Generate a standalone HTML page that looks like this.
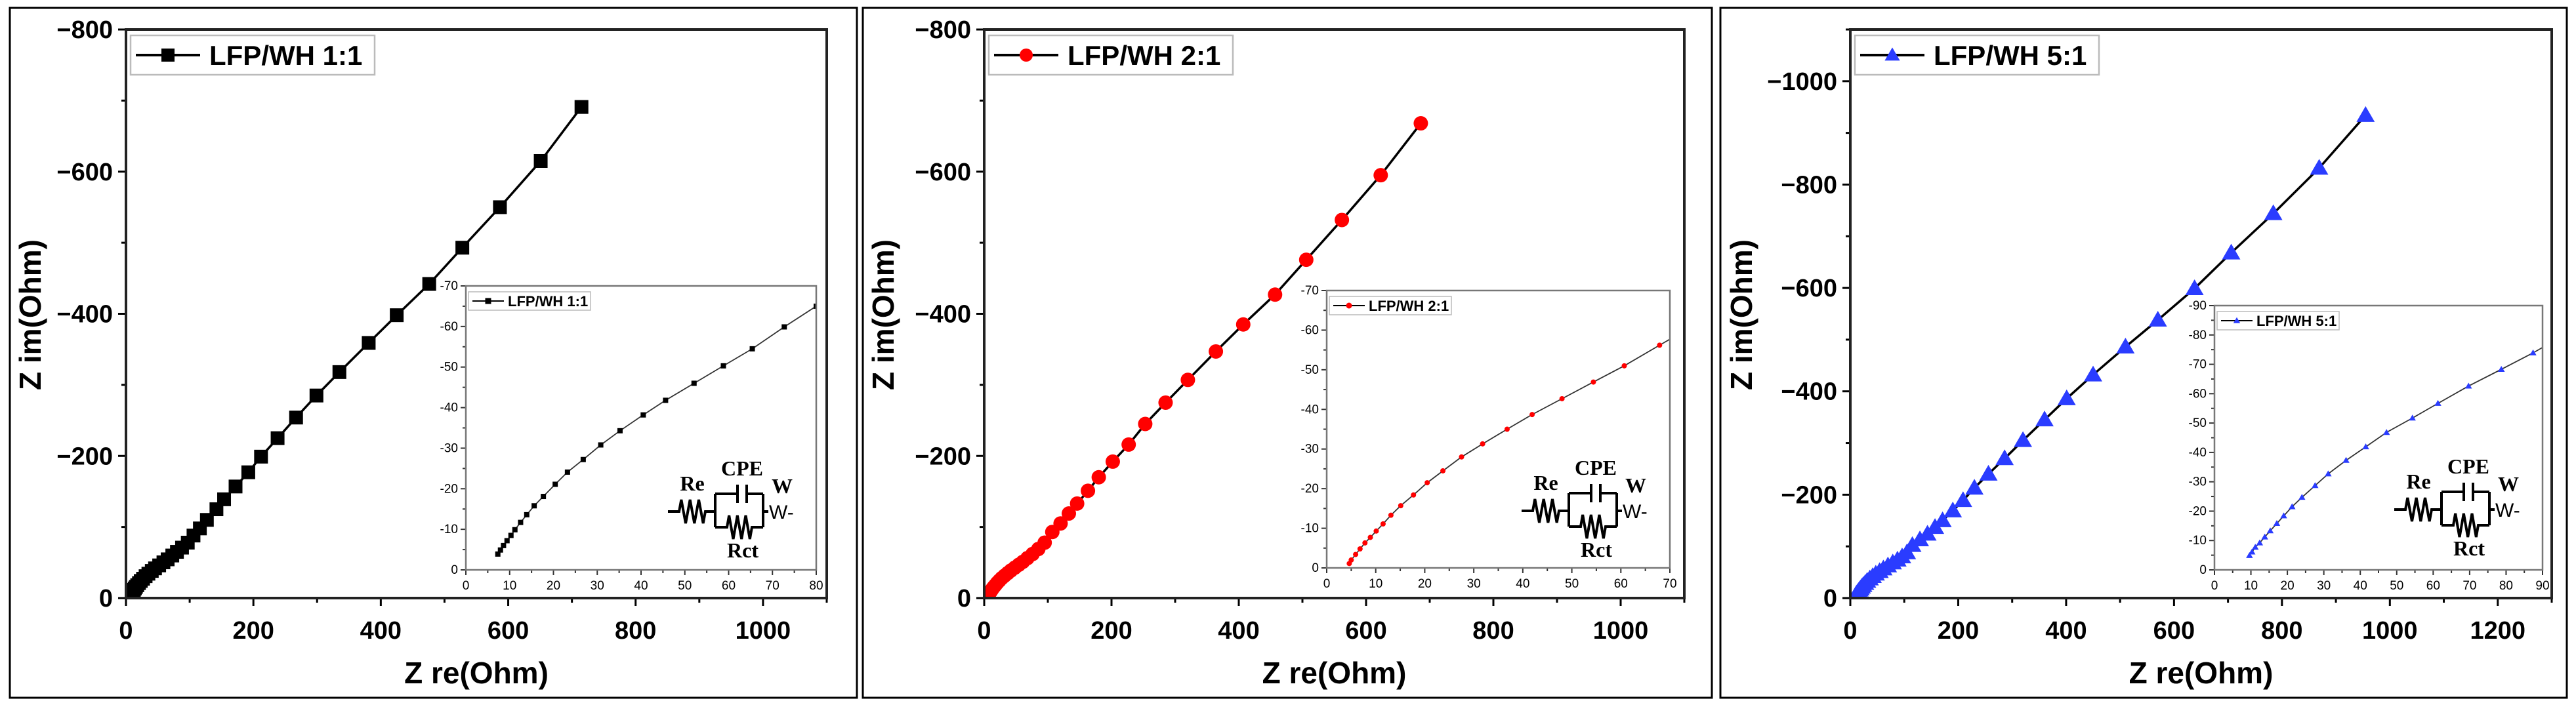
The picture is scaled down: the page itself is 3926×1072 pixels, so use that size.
<!DOCTYPE html>
<html><head><meta charset="utf-8">
<style>
html,body{margin:0;padding:0;background:#fff;}
svg{display:block;font-family:"Liberation Sans",Arial,sans-serif;}
</style></head>
<body>
<svg id="chart" width="3926" height="1072" viewBox="0 0 3926 1072" xmlns="http://www.w3.org/2000/svg">
<rect x="0" y="0" width="3926" height="1072" fill="#fff"/>
</svg>
<script>
// ---------- data ----------
const p1Zre = [7.3,7.9,8.6,9.4,10.3,11.2,12.5,13.9,15.6,17.7,20.4,23.2,26.8,30.8,35.2,40.5,45.6,52.1,58.8,65.4,72.7,80,88,97,106,116,127,142,154,172,192,212,238,267,299,335,381,425,476,528,587,651,715];
const p1Zim = [-3.9,-4.9,-6.0,-7.2,-8.5,-9.9,-11.7,-13.6,-15.8,-18.1,-21.1,-24.1,-27.2,-30.8,-34.3,-38.2,-41.8,-46.0,-50.3,-54.5,-59.9,-65,-71,-78,-88,-98,-110,-125,-139,-157,-177,-199,-225,-254,-285,-318,-359,-398,-442,-493,-550,-615,-691];
const p2Zre = [4.6,5.0,5.9,6.8,7.8,8.9,10.1,11.5,13.1,15.1,17.7,20.5,23.7,27.5,31.8,36.8,41.9,48.0,54.4,60.7,67.9,76,85,95,107,120,133,146,163,180,202,227,253,285,320,364,407,457,506,562,623,686];
const p2Zim = [-1.1,-2.0,-3.4,-4.8,-6.3,-7.7,-9.3,-11.1,-13.3,-15.7,-18.4,-21.5,-24.5,-28.0,-31.3,-35.0,-38.7,-42.7,-46.9,-51.0,-56.2,-62,-69,-78,-93,-105,-119,-133,-151,-170,-192,-216,-245,-275,-307,-347,-385,-427,-476,-532,-595,-668];
const p3Zre = [9.6,10.3,11.2,12.4,13.8,15.3,17.1,19.0,21.3,24.0,27.6,31.2,36.1,41.5,47.2,54.3,61.3,69.7,78.7,87.4,96,105,115,129,143,157,171,190,209,230,256,286,320,360,401,450,510,570,638,706,784,869,955];
const p3Zim = [-4.9,-6.1,-7.7,-9.2,-11.2,-13.3,-15.8,-18.4,-21.5,-24.7,-28.7,-32.7,-37.3,-41.9,-46.8,-51.7,-56.7,-62.6,-68.3,-73.9,-80,-88,-102,-113,-124,-137,-150,-169,-189,-213,-240,-270,-305,-345,-386,-432,-486,-538,-599,-668,-744,-832,-934];
const seriesNames = ["LFP/WH 1:1","LFP/WH 2:1","LFP/WH 5:1"];
const mainXTicks12 = [0,200,400,600,800,1000];
const mainXTicks3 = [0,200,400,600,800,1000,1200];
const mainYTicks12 = [0,-200,-400,-600,-800];
const mainYTicks3 = [0,-200,-400,-600,-800,-1000];
const insetXTicks1 = [0,10,20,30,40,50,60,70,80];
const insetXTicks2 = [0,10,20,30,40,50,60,70];
const insetXTicks3 = [0,10,20,30,40,50,60,70,80,90];
const insetYTicks12 = [0,-10,-20,-30,-40,-50,-60,-70];
const insetYTicks3 = [0,-10,-20,-30,-40,-50,-60,-70,-80,-90];

// ---------- helpers ----------
const NS = "http://www.w3.org/2000/svg";
const svg = document.getElementById("chart");
function mk(tag, attrs, parent){
  const e = document.createElementNS(NS, tag);
  for (const k in attrs) e.setAttribute(k, attrs[k]);
  (parent||svg).appendChild(e);
  return e;
}
function fmt(v){ return v<0 ? "\u2212"+Math.abs(v) : String(v); }
function fmtI(v){ return v<0 ? "-"+Math.abs(v) : String(v); }
function drawMarker(g, shape, x, y, s, color){
  let m;
  if (shape==="square") m = mk("rect",{x:x-s/2,y:y-s/2,width:s,height:s,fill:color},g);
  else if (shape==="circle") m = mk("circle",{cx:x,cy:y,r:s/2,fill:color},g);
  else m = mk("polygon",{points:`${x},${y-s*0.58} ${x-s*0.58},${y+s*0.42} ${x+s*0.58},${y+s*0.42}`,fill:color},g);
  
  
  return m;
}
let clipId = 0;

function plotArea(o){
  // o: L,T,R,B,x0,x1,y0,y1,xs,ys,xTicks,yTicks,xMinor,yMinor,shape,color,ms,lw,inset,name
  const g = mk("g",{});
  
  
  const sx = v => o.L + (v - o.x0)/(o.x1 - o.x0)*(o.R - o.L);
  const sy = v => o.B - (v - o.y0)/(o.y1 - o.y0)*(o.B - o.T);
  if (o.inset) mk("rect",{x:o.L,y:o.T,width:o.R-o.L,height:o.B-o.T,fill:"#fff"},g);
  const cid = "clip"+(clipId++);
  const cp = mk("clipPath",{id:cid},g);
  mk("rect",{x:o.L,y:o.T,width:o.R-o.L,height:o.B-o.T},cp);
  // ticks
  const tl = o.inset?8:12, tm = o.inset?5:7, tw = o.inset?2:3;
  const tickCol = o.inset?"#333":"#000";
  for (let v=o.x0; v<=o.x1+1e-9; v+=o.xMinor){
    const major = o.xTicks.some(t=>Math.abs(t-v)<1e-9);
    mk("line",{x1:sx(v),y1:o.B,x2:sx(v),y2:o.B+(major?tl:tm),stroke:tickCol,"stroke-width":tw},g);
  }
  for (let v=o.y0; v>=o.y1-1e-9; v-=o.yMinor){
    const major = o.yTicks.some(t=>Math.abs(t-v)<1e-9);
    mk("line",{x1:o.L,y1:sy(v),x2:o.L-(major?tl:tm),y2:sy(v),stroke:tickCol,"stroke-width":tw},g);
  }
  o.xTicks.forEach(v=>{
    const t = mk("text",{x:sx(v),y:o.inset?o.B+30:o.B+62,"text-anchor":"middle","font-size":o.inset?19:38,"font-weight":o.inset?"normal":"bold",fill:"#000"},g);
    t.textContent = o.inset?fmtI(v):fmt(v);
    
    
  });
  o.yTicks.forEach(v=>{
    const t = mk("text",{x:o.L-(o.inset?12:20),y:sy(v)+(o.inset?6:13),"text-anchor":"end","font-size":o.inset?19:38,"font-weight":o.inset?"normal":"bold",fill:"#000"},g);
    t.textContent = o.inset?fmtI(v):fmt(v);
    
    
  });
  // series
  const sg = mk("g",{"clip-path":`url(#${cid})`},g);
  let d = "";
  o.xs.forEach((x,i)=>{ d += (i?"L":"M")+sx(x).toFixed(1)+","+sy(o.ys[i]).toFixed(1); });
  const pl = mk("path",{d:d,fill:"none",stroke:o.inset?"#333":"#000","stroke-width":o.lw},sg);
  
  
  o.xs.forEach((x,i)=> drawMarker(sg, o.shape, sx(x), sy(o.ys[i]), o.ms, o.color));
  // frame
  const fr = mk("rect",{x:o.L,y:o.T,width:o.R-o.L,height:o.B-o.T,fill:"none",stroke:o.inset?"#777":"#222","stroke-width":o.inset?2.5:4},g);
  
  
  // legend
  const lw = o.inset?186:372, lh = o.inset?28:60, lx = o.L+(o.inset?4:7), ly = o.T+(o.inset?9:9);
  const lg = mk("g",{},g);
  
  
  mk("rect",{x:lx,y:ly,width:lw,height:lh,fill:"#fff",stroke:"#bbb","stroke-width":o.inset?1.5:2.5},lg);
  const cy = ly+lh/2, s0 = lx+(o.inset?6:8), s1 = lx+(o.inset?54:106);
  mk("line",{x1:s0,y1:cy,x2:s1,y2:cy,stroke:"#000","stroke-width":o.inset?2:4},lg);
  drawMarker(lg, o.shape, (s0+s1)/2, cy, o.inset?9:20, o.color);
  const lt = mk("text",{x:s1+(o.inset?6:14),y:cy+(o.inset?8:15),"font-size":o.inset?22:42,"font-weight":"bold",fill:"#000"},lg);
  lt.textContent = o.legend;
  
  
  return g;
}

function circuit(x0, wy){
  const g = mk("g",{fill:"none",stroke:"#000","stroke-width":4});
  
  
  const z = (a,b,y,amp)=>{ let s=`M${a},${y}`; const n=6, w=(b-a)/n;
    for(let i=0;i<n;i++){ s+=` L${a+w*(i+0.5)},${y+(i%2?amp:-amp)}`; } return s+` L${b},${y}`; };
  mk("path",{d:`M${x0},${wy} L${x0+17},${wy} `+z(x0+17,x0+57,wy,18).slice(z(x0+17,x0+57,wy,18).indexOf("L"))+` L${x0+72},${wy}`},g);
  const bl=x0+72, br=x0+145, tY=wy-27, bY=wy+24;
  mk("path",{d:`M${bl},${tY} L${bl},${bY} M${br},${tY} L${br},${bY}`},g);
  mk("path",{d:`M${bl},${tY} L${x0+106},${tY} M${x0+120},${tY} L${br},${tY} M${x0+106},${tY-14} L${x0+106},${tY+14} M${x0+120},${tY-14} L${x0+120},${tY+14}`},g);
  mk("path",{d:`M${bl},${bY} L${x0+90},${bY} `+z(x0+90,x0+128,bY,18).slice(z(x0+90,x0+128,bY,18).indexOf("L"))+` L${br},${bY}`},g);
  mk("path",{d:`M${br},${wy} L${x0+153},${wy}`},g);
  const labels = [["Re",x0+37,wy-32],["CPE",x0+113,wy-55],["W",x0+174,wy-28],["Rct",x0+114,wy+70]];
  labels.forEach(l=>{
    const t = mk("text",{x:l[1],y:l[2],"text-anchor":"middle","font-family":"Liberation Serif, serif","font-size":32,"font-weight":"bold",fill:"#000",stroke:"none"},g);
    t.textContent = l[0];
    
    
  });
  const w = mk("text",{x:x0+154,y:wy+11,"font-size":30,fill:"#000",stroke:"none"},g);
  w.textContent = "W-";
  
  
}

function panel(p){
  const fr = mk("rect",{x:p.fx,y:12,width:p.fw,height:1052,fill:"none",stroke:"#000","stroke-width":3});
  
  
  plotArea(Object.assign({inset:false,name:'main-plot',lw:3.5,xMinor:100,yMinor:100}, p.main));
  const xt = mk("text",{x:(p.main.L+p.main.R)/2,y:1042,"text-anchor":"middle","font-size":46,"font-weight":"bold",fill:"#000"});
  xt.textContent = "Z re(Ohm)";
  
  
  const yt = mk("text",{x:0,y:0,transform:`translate(${p.ytx},480) rotate(-90)`,"text-anchor":"middle","font-size":46,"font-weight":"bold",fill:"#000"});
  yt.textContent = "Z im(Ohm)";
  
  
  plotArea(Object.assign({inset:true,name:'inset-plot',lw:1.8,xMinor:5,yMinor:5}, p.inset));
  circuit(p.inset.R-226, p.wy);
}

panel({fx:15,fw:1291,ytx:62,wy:780,
  main:{L:192,T:45,R:1260,B:912,x0:0,x1:1100,y0:0,y1:-800,xs:p1Zre,ys:p1Zim,xTicks:mainXTicks12,yTicks:mainYTicks12,shape:"square",color:"#000",ms:21,legend:seriesNames[0]},
  inset:{L:710,T:436,R:1244,B:869,x0:0,x1:80,y0:0,y1:-70,xs:p1Zre,ys:p1Zim,xTicks:insetXTicks1,yTicks:insetYTicks12,shape:"square",color:"#000",ms:8,legend:seriesNames[0]}
});
panel({fx:1315,fw:1294,ytx:1362,wy:779,
  main:{L:1500,T:45,R:2567,B:912,x0:0,x1:1100,y0:0,y1:-800,xs:p2Zre,ys:p2Zim,xTicks:mainXTicks12,yTicks:mainYTicks12,shape:"circle",color:"#ff0000",ms:22,legend:seriesNames[1]},
  inset:{L:2022,T:443,R:2545,B:866,x0:0,x1:70,y0:0,y1:-70,xs:p2Zre,ys:p2Zim,xTicks:insetXTicks2,yTicks:insetYTicks12,shape:"circle",color:"#ff0000",ms:8,legend:seriesNames[1]}
});
panel({fx:2622,fw:1290,ytx:2670,wy:777,
  main:{L:2820,T:45,R:3889,B:912,x0:0,x1:1300,y0:0,y1:-1100,xs:p3Zre,ys:p3Zim,xTicks:mainXTicks3,yTicks:mainYTicks3,shape:"triangle",color:"#2a3cff",ms:24,legend:seriesNames[2]},
  inset:{L:3375,T:466,R:3875,B:869,x0:0,x1:90,y0:0,y1:-90,xs:p3Zre,ys:p3Zim,xTicks:insetXTicks3,yTicks:insetYTicks3,shape:"triangle",color:"#2a3cff",ms:9,legend:seriesNames[2]}
});
</script>
</body></html>
